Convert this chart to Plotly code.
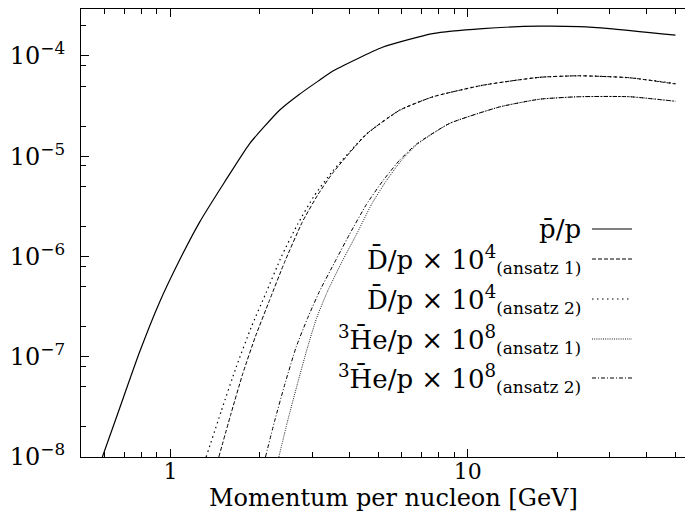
import plotly.graph_objects as go

# ---- data ----
pbar_x = [0.59, 0.674, 0.786, 0.918, 1.072, 1.252, 1.519, 1.844, 2.326, 2.716, 3.171, 3.507, 5.166,
          7.608, 11.21, 17.42, 23.75, 29.97, 49.95]
pbar_y = [1e-8, 3.05e-8, 1.10e-7, 3.48e-7, 9.16e-7, 2.19e-6, 5.50e-6, 1.33e-5, 2.87e-5, 4.15e-5, 5.73e-5,
          7.03e-5, 1.22e-4, 1.67e-4, 1.875e-4, 1.98e-4, 1.96e-4, 1.875e-4, 1.61e-4]

d1_x = [1.454, 1.591, 1.751, 1.932, 2.153, 2.418, 2.773, 3.122, 3.507, 4.563, 5.893, 7.608, 11.21,
        17.42, 23.75, 34.99, 49.95]
d1_y = [1e-8, 2.59e-8, 6.81e-8, 1.60e-7, 3.65e-7, 8.73e-7, 2.19e-6, 4.07e-6, 6.75e-6, 1.66e-5, 2.87e-5,
        3.90e-5, 5.10e-5, 6.12e-5, 6.34e-5, 6.06e-5, 5.25e-5]

d2_x = [1.318, 1.484, 1.663, 1.873, 2.099, 2.362, 2.675, 3.051, 3.507, 4.563, 5.893, 7.608, 11.21,
        17.42, 23.75, 34.99, 49.95]
d2_y = [1e-8, 2.91e-8, 7.87e-8, 2.00e-7, 4.38e-7, 1.00e-6, 2.09e-6, 4.07e-6, 7.07e-6, 1.66e-5, 2.87e-5,
        3.90e-5, 5.10e-5, 6.12e-5, 6.34e-5, 6.06e-5, 5.31e-5]

he1_x = [2.314, 2.475, 2.664, 2.893, 3.098, 3.374, 3.810, 4.223, 4.745, 5.307, 5.984, 6.773, 8.679,
         12.79, 17.42, 23.75, 34.99, 49.95]
he1_y = [1e-8, 2.26e-8, 5.18e-8, 1.25e-7, 2.41e-7, 4.49e-7, 9.35e-7, 1.66e-6, 3.31e-6, 5.62e-6, 9.10e-6,
         1.32e-5, 2.12e-5, 3.10e-5, 3.70e-5, 3.92e-5, 3.92e-5, 3.53e-5]

he2_x = [2.087, 2.238, 2.418, 2.647, 2.889, 3.171, 3.609, 4.000, 4.563, 5.166, 5.893, 6.721, 8.679,
         12.79, 17.42, 23.75, 34.99, 49.95]
he2_y = [1e-8, 2.26e-8, 5.18e-8, 1.25e-7, 2.41e-7, 4.49e-7, 9.35e-7, 1.66e-6, 3.31e-6, 5.62e-6, 9.10e-6,
         1.32e-5, 2.12e-5, 3.10e-5, 3.70e-5, 3.92e-5, 3.92e-5, 3.53e-5]

SUB = '<sub><span style="font-size:17px">{}</span></sub>'
labels = [
    "p\u0304/p",
    "D\u0304/p \u00d7 10<sup>4</sup>" + SUB.format("(ansatz 1)"),
    "D\u0304/p \u00d7 10<sup>4</sup>" + SUB.format("(ansatz 2)"),
    "<sup>3</sup>H\u0304e/p \u00d7 10<sup>8</sup>" + SUB.format("(ansatz 1)"),
    "<sup>3</sup>H\u0304e/p \u00d7 10<sup>8</sup>" + SUB.format("(ansatz 2)"),
]
x_title = "Momentum per nucleon [GeV]"

x_tickvals = [1, 10]
x_ticktext = ["1", "10"]
x_minor = [0.6, 0.7, 0.8, 0.9, 2, 3, 4, 5, 6, 7, 8, 9, 20, 30, 40, 50]
y_tickvals = [1e-8, 1e-7, 1e-6, 1e-5, 1e-4]
y_ticktext = ["10<sup>\u22128</sup>", "10<sup>\u22127</sup>", "10<sup>\u22126</sup>",
              "10<sup>\u22125</sup>", "10<sup>\u22124</sup>"]
y_minor = [2e-8, 5e-8, 8e-8, 2e-7, 5e-7, 8e-7, 2e-6, 5e-6, 8e-6, 2e-5, 5e-5, 8e-5, 2e-4]

FONT = "DejaVu Serif"
series = [
    (pbar_x, pbar_y, "solid", 1.2),
    (d1_x, d1_y, "4px,2px", 1.0),
    (d2_x, d2_y, "1.5px,3.5px", 1.2),
    (he1_x, he1_y, "1px,1.2px", 0.9),
    (he2_x, he2_y, "4px,2px,1px,2px", 1.0),
]

fig = go.Figure()
for (xs, ys, dash, w), lab in zip(series, labels):
    fig.add_trace(go.Scatter(x=xs, y=ys, mode="lines", name=lab,
                             line=dict(color="black", width=w, dash=dash, shape="spline", smoothing=0.5),
                             showlegend=False))

# the page body has an 8px margin, so the figure is 8px smaller than the window
W, H = 685, 506
L, R, T, B = 73, 0, 1, 57
pw, ph = W - L - R, H - T - B

def px2paper(x, y):
    # page pixel -> paper coords
    return (x - 8 - L) / pw, (H - B - (y - 8)) / ph

row_y = [229, 259, 299, 339, 378]
for (xs, ys, dash, w), lab, ry in zip(series, labels, row_y):
    tx, ty = px2paper(583, ry)
    fig.add_annotation(x=tx, y=ty, xref="paper", yref="paper", text=lab, showarrow=False,
                       xanchor="right", yanchor="middle", font=dict(family=FONT, size=26, color="black"))
    x0, y0 = px2paper(592, ry)
    x1, _ = px2paper(632, ry)
    fig.add_shape(type="line", xref="paper", yref="paper", x0=x0, x1=x1, y0=y0, y1=y0,
                  line=dict(color="black", width=w, dash=dash))

tx, ty = px2paper(393, 498)
fig.add_annotation(x=tx, y=ty, xref="paper", yref="paper", text=x_title, showarrow=False,
                   xanchor="center", yanchor="middle", font=dict(family=FONT, size=24, color="black"))

fig.update_layout(
    width=W, height=H,
    margin=dict(l=L, r=R, t=T, b=B, pad=0, autoexpand=False),
    paper_bgcolor="white", plot_bgcolor="white",
    font=dict(family=FONT, size=23, color="black"),
)
fig.update_xaxes(
    type="log", range=[-0.30103, 1.7576], automargin=False,
    tickvals=x_tickvals, ticktext=x_ticktext,
    ticks="inside", ticklen=8, tickwidth=1.2, tickcolor="black",
    minor=dict(tickvals=x_minor, ticks="inside", ticklen=5, tickwidth=1, tickcolor="black"),
    showline=True, linecolor="black", linewidth=1.2, mirror="ticks",
    showgrid=False, zeroline=False,
    tickfont=dict(family=FONT, size=22), ticklabelstandoff=-6,
)
fig.update_yaxes(
    type="log", range=[-8, -3.532], automargin=False,
    tickvals=y_tickvals, ticktext=y_ticktext,
    ticks="inside", ticklen=8, tickwidth=1.2, tickcolor="black",
    minor=dict(tickvals=y_minor, ticks="inside", ticklen=5, tickwidth=1, tickcolor="black"),
    showline=True, linecolor="black", linewidth=1.2, mirror=False,
    showgrid=False, zeroline=False,
    tickfont=dict(family=FONT, size=24), ticklabelstandoff=10,
)

fig.write_html("out.html")
